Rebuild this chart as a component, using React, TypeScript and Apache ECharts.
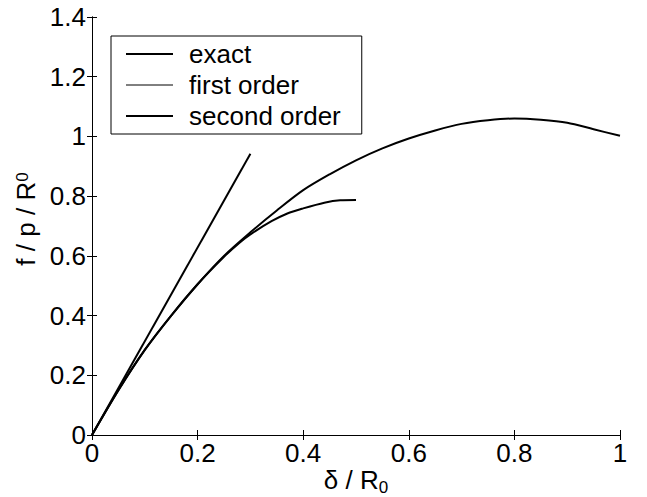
import React, { useEffect, useRef } from "react";
import * as echarts from "echarts";

const exactX = [0, 0.05, 0.1, 0.15, 0.2, 0.25, 0.3, 0.35, 0.4, 0.45, 0.5, 0.55, 0.6, 0.65, 0.7, 0.75, 0.8, 0.85, 0.9, 0.95, 1.0];
const exactY = [0, 0.15, 0.285, 0.4, 0.505, 0.6, 0.679, 0.752, 0.82, 0.873, 0.92, 0.96, 0.993, 1.02, 1.042, 1.054, 1.06, 1.056, 1.046, 1.024, 1.002];

const firstX = [0, 0.3];
const firstY = [0, 0.942];

const secondX = [0, 0.05, 0.1, 0.15, 0.2, 0.25, 0.28, 0.3, 0.34, 0.37, 0.4, 0.44, 0.47, 0.5];
const secondY = [0, 0.15, 0.285, 0.4, 0.505, 0.597, 0.645, 0.672, 0.716, 0.742, 0.759, 0.778, 0.786, 0.787];

const seriesNames = ["exact", "first order", "second order"];

const xTicks = { min: 0, max: 1, interval: 0.2 };
const yTicks = { min: 0, max: 1.4, interval: 0.2 };

const zip = (xs: number[], ys: number[]) => xs.map((x, i) => [x, ys[i]]);

const FONT = "'Liberation Sans', Arial, sans-serif";

export default function App() {
  const ref = useRef<HTMLDivElement>(null);
  useEffect(() => {
    if (!ref.current) return;
    const chart = echarts.init(ref.current, null, { renderer: "svg" });
    const axisCommon = {
      type: "value" as const,
      axisLine: { show: true, lineStyle: { color: "#000", width: 1 } },
      axisTick: { show: true, inside: true, length: 5, lineStyle: { color: "#000" } },
      splitLine: { show: false },
    };
    chart.setOption({
      animation: false,
      backgroundColor: "#fff",
      textStyle: { fontFamily: FONT },
      grid: { left: 92, right: 27, top: 17, bottom: 62, containLabel: false, outerBoundsMode: "none" },
      legend: {
        left: 111,
        top: 36,
        orient: "vertical",
        backgroundColor: "#fff",
        borderColor: "#000",
        borderWidth: 1,
        borderRadius: 0,
        padding: [5, 21, 5, 14],
        itemWidth: 47,
        itemHeight: 26,
        itemGap: 5,
        selectedMode: false,
        itemStyle: { opacity: 0 },
        textStyle: { fontFamily: FONT, fontSize: 26, color: "#000", padding: [0, 0, 0, 11] },
        data: [
          { name: seriesNames[0] },
          { name: seriesNames[1], lineStyle: { width: 1 } },
          { name: seriesNames[2] },
        ],
      },
      xAxis: [
        {
          ...axisCommon,
          ...xTicks,
          position: "bottom",
          axisLabel: { show: true, color: "#000", fontSize: 26, fontFamily: FONT, margin: 5 },
          name: "{a|δ / R}{b|0}",
          nameLocation: "middle",
          nameGap: 32,
          nameMoveOverlap: false,
          nameTextStyle: {
            rich: {
              a: { fontSize: 26, fontFamily: FONT, color: "#000", lineHeight: 28, verticalAlign: "top" },
              b: { fontSize: 17, fontFamily: FONT, color: "#000", lineHeight: 17, padding: [12, 0, 0, 0], verticalAlign: "top" },
            },
          },
        },
        {
          ...axisCommon,
          ...xTicks,
          position: "top",
          axisLabel: { show: false },
        },
      ],
      yAxis: [
        {
          ...axisCommon,
          ...yTicks,
          position: "left",
          axisLabel: { show: true, color: "#000", fontSize: 26, fontFamily: FONT, margin: 6 },
          name: "{a|f / p / R}{b|0}",
          nameLocation: "middle",
          nameGap: 44,
          nameTextStyle: {
            padding: [0, 0, 0, 14],
            rich: {
              a: { fontSize: 26, fontFamily: FONT, color: "#000", lineHeight: 28, padding: [6, 0, 0, 0], verticalAlign: "top" },
              b: { fontSize: 17, fontFamily: FONT, color: "#000", lineHeight: 17, padding: [7, 0, 0, 0], verticalAlign: "top" },
            },
          },
        },
        {
          ...axisCommon,
          ...yTicks,
          position: "right",
          axisLabel: { show: false },
        },
      ],
      series: [
        {
          name: seriesNames[0],
          type: "line",
          data: zip(exactX, exactY),
          symbol: "none",
          smooth: 0.3,
          lineStyle: { color: "#000", width: 2 },
          itemStyle: { color: "#000" },
        },
        {
          name: seriesNames[1],
          type: "line",
          data: zip(firstX, firstY),
          symbol: "none",
          lineStyle: { color: "#000", width: 2 },
          itemStyle: { color: "#000" },
        },
        {
          name: seriesNames[2],
          type: "line",
          data: zip(secondX, secondY),
          symbol: "none",
          smooth: 0.3,
          lineStyle: { color: "#000", width: 2 },
          itemStyle: { color: "#000" },
        },
      ],
    });
    return () => chart.dispose();
  }, []);
  return <div ref={ref} style={{ width: 647, height: 497, position: "absolute", left: 0, top: 0 }} />;
}
